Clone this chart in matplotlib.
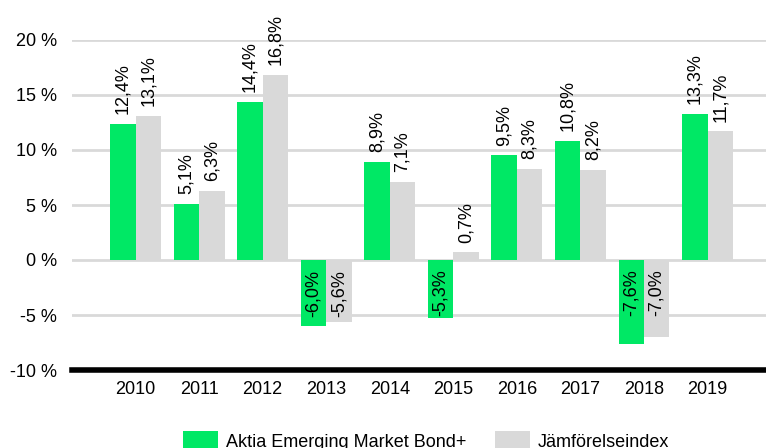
import matplotlib
matplotlib.use("Agg")
import matplotlib.pyplot as plt
import numpy as np

years = ["2010", "2011", "2012", "2013", "2014", "2015", "2016", "2017", "2018", "2019"]
fund = [12.4, 5.1, 14.4, -6.0, 8.9, -5.3, 9.5, 10.8, -7.6, 13.3]
index = [13.1, 6.3, 16.8, -5.6, 7.1, 0.7, 8.3, 8.2, -7.0, 11.7]
yticks = [-10, -5, 0, 5, 10, 15, 20]
series_names = ["Aktia Emerging Market Bond+", "Jämförelseindex"]

GREEN = "#00E865"
GRAY = "#D9D9D9"
plt.rcParams['font.family'] = ['Liberation Sans', 'DejaVu Sans']

W, H = 766, 448
fig = plt.figure(figsize=(W / 100, H / 100), dpi=100)
ax = fig.add_axes([72 / W, (H - 370) / H, (766 - 72) / W, 330 / H])

x = np.arange(len(years))
bw = 0.4
b1 = ax.bar(x - bw / 2, fund, bw, color=GREEN, zorder=3, label=series_names[0])
b2 = ax.bar(x + bw / 2, index, bw, color=GRAY, zorder=3, label=series_names[1])

FS = 13
ax.set_ylim(-10, 20)
ax.set_xlim(-1, 9.92)
ax.set_yticks(yticks)
ax.set_yticklabels([f"{t} %" for t in yticks], fontsize=FS)
ax.set_xticks(x)
ax.set_xticklabels(years, fontsize=FS)
ax.tick_params(axis='both', length=0)
ax.tick_params(axis='y', pad=11)
ax.tick_params(axis='x', pad=8)
for s in ax.spines.values():
    s.set_visible(False)
ax.yaxis.grid(True, color=GRAY, linewidth=2, zorder=0)
ax.axhline(-10, color="black", linewidth=4, zorder=4, clip_on=False)

def fmt(v):
    return f"{v:.1f}%".replace(".", ",")

for bars, vals in ((b1, fund), (b2, index)):
    for rect, v in zip(bars, vals):
        cx = rect.get_x() + rect.get_width() / 2
        if v >= 0:
            ax.annotate(fmt(v), (cx, v), xytext=(0, 7), textcoords="offset points",
                        rotation=90, ha="center", va="bottom", fontsize=FS, zorder=5)
        else:
            ax.annotate(fmt(v), (cx, 0), xytext=(0, -7), textcoords="offset points",
                        rotation=90, ha="center", va="top", fontsize=FS, zorder=5)

fig.legend(handles=[b1, b2], labels=series_names, loc="center",
           bbox_to_anchor=(426 / W, 1 - 441 / H), ncol=2, frameon=False,
           fontsize=13, handlelength=1.94, handleheight=1.2, columnspacing=1.6,
           handletextpad=0.45)

fig.savefig("out.png", dpi=100)
